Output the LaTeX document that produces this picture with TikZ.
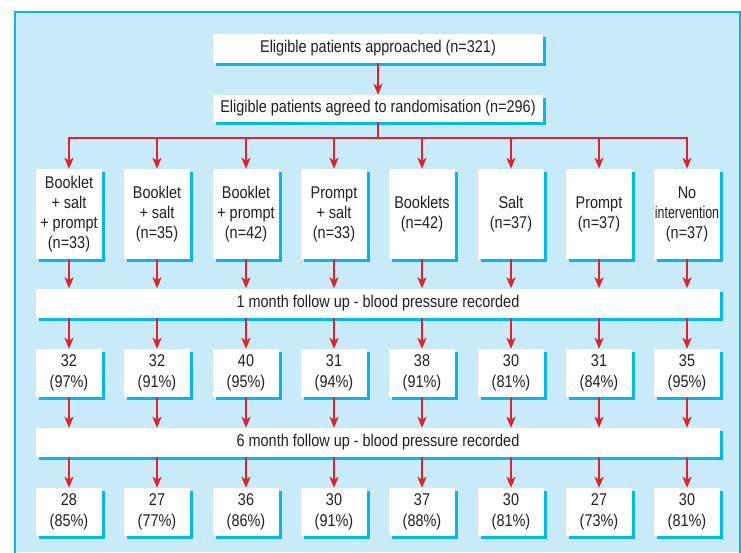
\documentclass[tikz,border=0pt]{standalone}
\usepackage{fontspec}
\setmainfont{Liberation Sans}[FakeStretch=0.85]
\usepackage{graphicx}
\usetikzlibrary{arrows.meta,shadows}
\definecolor{panel}{HTML}{C8EAF9}
\definecolor{cyanb}{HTML}{00B9F0}
\definecolor{redc}{HTML}{E4202A}
\definecolor{txt}{HTML}{231F20}
\begin{document}
\begin{tikzpicture}[x=1pt,y=-1pt,
  box/.style={fill=white, text=txt, inner sep=0pt, align=center,
    font=\fontsize{17}{20}\selectfont,
    drop shadow={shadow xshift=3pt, shadow yshift=-3pt, fill=cyanb, opacity=1}},
  wide/.style={box, minimum width=330pt},
  bar/.style={box, minimum width=684pt, minimum height=29pt},
  grp/.style={box, minimum width=66pt, minimum height=90pt},
  res/.style={box, minimum width=66pt, minimum height=48pt, font=\fontsize{17}{21}\selectfont},
  link/.style={draw=redc, line width=2pt},
  arr/.style={link, -{Stealth[length=11pt,width=9pt,inset=3pt]}}
]
\useasboundingbox (0,0) rectangle (741,552);
\fill[panel] (15,12) rectangle (740,552);
\draw[cyanb, line width=1.5pt] (15,553) -- (15,12) -- (740,12) -- (740,553);

\node[wide, minimum height=29pt] (r1) at (378,48.5) {Eligible patients approached (n=321)};
\node[wide, minimum height=27pt] (r2) at (378,108.5) {Eligible patients agreed to randomisation (n=296)};
\coordinate (split) at (378,138);

\node[grp] (g1) at (69,214) {Booklet\\+ salt\\+ prompt\\(n=33)};
\node[grp] (g2) at (157,214) {Booklet\\+ salt\\(n=35)};
\node[grp] (g3) at (246,214) {Booklet\\+ prompt\\(n=42)};
\node[grp] (g4) at (334,214) {Prompt\\+ salt\\(n=33)};
\node[grp] (g5) at (422,214) {Booklets\\(n=42)};
\node[grp] (g6) at (511,214) {Salt\\(n=37)};
\node[grp] (g7) at (599,214) {Prompt\\(n=37)};
\node[grp] (g8) at (687,214) {No\\\scalebox{0.86}[1]{intervention}\\(n=37)};

\node[bar] (b1) at (378,303) {1 month follow up - blood pressure recorded};

\node[res] (m1) at (69,373) {32\\(97\%)};
\node[res] (m2) at (157,373) {32\\(91\%)};
\node[res] (m3) at (246,373) {40\\(95\%)};
\node[res] (m4) at (334,373) {31\\(94\%)};
\node[res] (m5) at (422,373) {38\\(91\%)};
\node[res] (m6) at (511,373) {30\\(81\%)};
\node[res] (m7) at (599,373) {31\\(84\%)};
\node[res] (m8) at (687,373) {35\\(95\%)};

\node[bar] (b2) at (378,442.5) {6 month follow up - blood pressure recorded};

\node[res] (s1) at (69,512) {28\\(85\%)};
\node[res] (s2) at (157,512) {27\\(77\%)};
\node[res] (s3) at (246,512) {36\\(86\%)};
\node[res] (s4) at (334,512) {30\\(91\%)};
\node[res] (s5) at (422,512) {37\\(88\%)};
\node[res] (s6) at (511,512) {30\\(81\%)};
\node[res] (s7) at (599,512) {27\\(73\%)};
\node[res] (s8) at (687,512) {30\\(81\%)};

\draw[arr] (r1.south) -- (r2.north);
\draw[link] (r2.south) -- (split);
\draw[link] ([xshift=-1pt]g1.north |- split) -- ([xshift=1pt]g8.north |- split);
\foreach \i in {1,...,8} {
  \draw[arr] (g\i.north |- split) -- (g\i.north);
  \draw[arr] (g\i.south) -- (g\i.south |- b1.north);
  \draw[arr] (g\i.south |- b1.south) -- (m\i.north);
  \draw[arr] (m\i.south) -- (m\i.south |- b2.north);
  \draw[arr] (m\i.south |- b2.south) -- (s\i.north);
}
\end{tikzpicture}
\end{document}
